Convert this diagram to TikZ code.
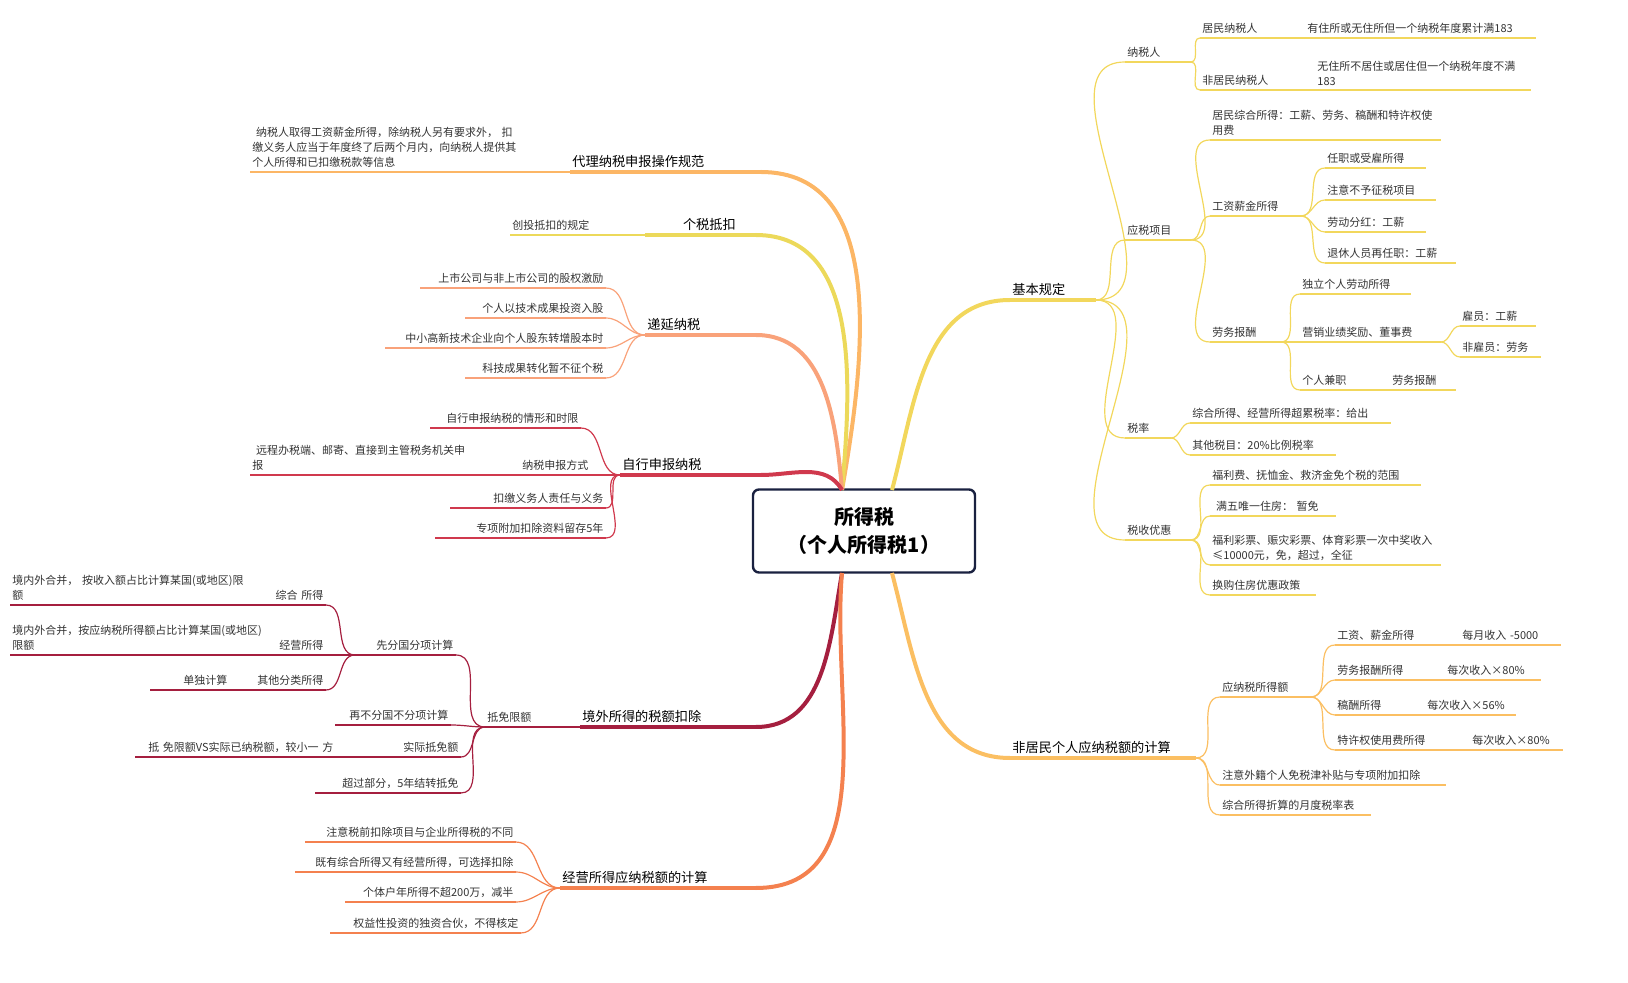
\documentclass[tikz,border=0pt]{standalone}
\usepackage{fontspec}
\setmainfont{Noto Sans CJK SC}
\XeTeXlinebreaklocale "zh"
\XeTeXlinebreakskip=0pt
\usetikzlibrary{positioning}
\definecolor{navy}{HTML}{1A2140}
\definecolor{cjbgd}{HTML}{F2D75C}
\definecolor{cfjm}{HTML}{FBBF62}
\definecolor{cdl}{HTML}{FCB665}
\definecolor{cgs}{HTML}{ECD95A}
\definecolor{cdy}{HTML}{F9A27A}
\definecolor{czx}{HTML}{D0394D}
\definecolor{cjw}{HTML}{A51F3F}
\definecolor{cjy}{HTML}{F4814F}
\definecolor{txt}{HTML}{333333}
\tikzset{
  leaf/.style={anchor=south west,inner xsep=1pt,inner ysep=2pt,
    font=\fontsize{5.5}{7.6}\selectfont,text=txt},
  big/.style={leaf,font=\fontsize{6.6}{9}\selectfont,text=black},
  sub/.style={line width=0.6pt},
  main/.style={line width=2pt},
  rc/.style={out=0,in=180},
  lc/.style={out=180,in=0}
}
% leaf with underline: [align]{name}{x1}{x2}{y}{colour}{text}
\newcommand\leaf[7][left]{%
  \pgfmathsetlengthmacro\lw{(#4-#3)*0.5pt-2pt}%
  \node[leaf,text width=\lw,align=#1] (#2) at (#3,#5) {#7};
  \draw[sub,#6] (#2.south west) -- (#2.south east);}
\newcommand\branch[7][left]{%
  \pgfmathsetlengthmacro\lw{(#4-#3)*0.5pt-2pt}%
  \node[big,text width=\lw,align=#1] (#2) at (#3,#5) {#7};
  \draw[main,#6] (#2.south west) -- (#2.south east);}
\begin{document}
\begin{tikzpicture}[x=0.5pt,y=-0.5pt]
\useasboundingbox (0,0) rectangle (1628,983);
\node[draw=navy,line width=1.2pt,rounded corners=3pt,fill=white,
  minimum width=111pt,minimum height=41.5pt,align=center,
  font=\fontsize{10}{14}\selectfont\bfseries] (root) at (864,531)
  {所得税\\（个人所得税1）};
\coordinate (rtop) at (892,490);
\coordinate (rbot) at (892,573);
\coordinate (ltop) at (842,490);
\coordinate (lbot) at (842,573);

% right: 基本规定
\branch{jbgd}{1010}{1095}{300}{cjbgd}{基本规定}
\draw[main,cjbgd] (rtop) to[out=75,in=180] (jbgd.south west);
\leaf{nsr}{1125}{1190}{62}{cjbgd}{纳税人}
\leaf{jmnsr}{1200}{1300}{38}{cjbgd}{居民纳税人}
\leaf{jmnote}{1305}{1535}{38}{cjbgd}{有住所或无住所但一个纳税年度累计满183}
\leaf{fjmnsr}{1200}{1300}{90}{cjbgd}{非居民纳税人}
\leaf{fjmnote}{1315}{1530}{90}{cjbgd}{无住所不居住或居住但一个纳税年度不满183}
\leaf{ysxm}{1125}{1190}{240}{cjbgd}{应税项目}
\leaf{jmzh}{1210}{1440}{140}{cjbgd}{居民综合所得：工薪、劳务、稿酬和特许权使用费}
\leaf{gzxj}{1210}{1300}{216}{cjbgd}{工资薪金所得}
\leaf{rz}{1325}{1425}{168}{cjbgd}{任职或受雇所得}
\leaf{zy}{1325}{1435}{200}{cjbgd}{注意不予征税项目}
\leaf{ldfh}{1325}{1425}{232}{cjbgd}{劳动分红：工薪}
\leaf{txry}{1325}{1455}{263}{cjbgd}{退休人员再任职：工薪}
\leaf{lwbc}{1210}{1280}{342}{cjbgd}{劳务报酬}
\leaf{dlgr}{1300}{1410}{294}{cjbgd}{独立个人劳动所得}
\leaf{yxjl}{1300}{1440}{342}{cjbgd}{营销业绩奖励、董事费}
\leaf{gy}{1460}{1535}{326}{cjbgd}{雇员：工薪}
\leaf{fgy}{1460}{1540}{357}{cjbgd}{非雇员：劳务}
\leaf{grjz}{1300}{1370}{390}{cjbgd}{个人兼职}
\leaf{grjzlw}{1390}{1455}{390}{cjbgd}{劳务报酬}
\leaf{sl}{1125}{1170}{438}{cjbgd}{税率}
\leaf{sl1}{1190}{1390}{423}{cjbgd}{综合所得、经营所得超累税率：给出}
\leaf{sl2}{1190}{1335}{455}{cjbgd}{其他税目：20\%比例税率}
\leaf{ssyh}{1125}{1190}{540}{cjbgd}{税收优惠}
\leaf{yh1}{1210}{1420}{485}{cjbgd}{福利费、抚恤金、救济金免个税的范围}
\leaf{yh2}{1210}{1335}{516}{cjbgd}{\ 满五唯一住房： 暂免}
\leaf{yh3}{1210}{1440}{565}{cjbgd}{福利彩票、赈灾彩票、体育彩票一次中奖收入≤10000元，免，超过，全征}
\leaf{yh4}{1210}{1315}{595}{cjbgd}{换购住房优惠政策}
\foreach \c in {nsr,ysxm,sl,ssyh}
  \draw[sub,cjbgd] (jbgd.south east) to[rc] (\c.south west);
\foreach \c in {jmnsr,fjmnsr} \draw[sub,cjbgd] (nsr.south east) to[rc] (\c.south west);
\draw[sub,cjbgd] (jmnsr.south east) -- (jmnote.south west);
\draw[sub,cjbgd] (fjmnsr.south east) -- (fjmnote.south west);
\foreach \c in {jmzh,gzxj,lwbc} \draw[sub,cjbgd] (ysxm.south east) to[rc] (\c.south west);
\foreach \c in {rz,zy,ldfh,txry} \draw[sub,cjbgd] (gzxj.south east) to[rc] (\c.south west);
\foreach \c in {dlgr,yxjl,grjz} \draw[sub,cjbgd] (lwbc.south east) to[rc] (\c.south west);
\foreach \c in {gy,fgy} \draw[sub,cjbgd] (yxjl.south east) to[rc] (\c.south west);
\draw[sub,cjbgd] (grjz.south east) -- (grjzlw.south west);
\foreach \c in {sl1,sl2} \draw[sub,cjbgd] (sl.south east) to[rc] (\c.south west);
\foreach \c in {yh1,yh2,yh3,yh4} \draw[sub,cjbgd] (ssyh.south east) to[rc] (\c.south west);

% right: 非居民
\branch{fjm}{1010}{1195}{758}{cfjm}{非居民个人应纳税额的计算}
\draw[main,cfjm] (rbot) to[out=-75,in=180] (fjm.south west);
\leaf{ynsd}{1220}{1310}{697}{cfjm}{应纳税所得额}
\leaf{gz}{1335}{1440}{645}{cfjm}{工资、薪金所得}
\leaf{gzv}{1460}{1560}{645}{cfjm}{每月收入 -5000}
\leaf{lw}{1335}{1425}{680}{cfjm}{劳务报酬所得}
\leaf{lwv}{1445}{1540}{680}{cfjm}{每次收入×80\%}
\leaf{gc}{1335}{1400}{715}{cfjm}{稿酬所得}
\leaf{gcv}{1425}{1515}{715}{cfjm}{每次收入×56\%}
\leaf{tx}{1335}{1445}{750}{cfjm}{特许权使用费所得}
\leaf{txv}{1470}{1562}{750}{cfjm}{每次收入×80\%}
\leaf{fjm2}{1220}{1445}{785}{cfjm}{注意外籍个人免税津补贴与专项附加扣除}
\leaf{fjm3}{1220}{1370}{815}{cfjm}{综合所得折算的月度税率表}
\foreach \c in {ynsd,fjm2,fjm3} \draw[sub,cfjm] (fjm.south east) to[rc] (\c.south west);
\foreach \c in {gz,lw,gc,tx} \draw[sub,cfjm] (ynsd.south east) to[rc] (\c.south west);
\foreach \a/\b in {gz/gzv,lw/lwv,gc/gcv,tx/txv} \draw[sub,cfjm] (\a.south east) -- (\b.south west);

% left: 代理 / 个税抵扣 / 递延
\branch{dl}{570}{760}{172}{cdl}{代理纳税申报操作规范}
\draw[main,cdl] (ltop) to[out=80,in=0] (dl.south east);
\leaf{dlnote}{250}{520}{172}{cdl}{\ 纳税人取得工资薪金所得，除纳税人另有要求外， 扣缴义务人应当于年度终了后两个月内，向纳税人提供其个人所得和已扣缴税款等信息}
\draw[sub,cdl] (dl.south west) -- (dlnote.south east);
\branch[right]{gsdk}{645}{755}{235}{cgs}{个税抵扣\ \ \ \ \ }
\draw[main,cgs] (ltop) to[out=85,in=0] (gsdk.south east);
\leaf{ctdk}{510}{600}{235}{cgs}{创投抵扣的规定}
\draw[sub,cgs] (gsdk.south west) -- (ctdk.south east);
\branch{dynsh}{645}{755}{335}{cdy}{递延纳税}
\draw[main,cdy] (ltop) to[out=95,in=0] (dynsh.south east);
\leaf[right]{dy1}{420}{605}{288}{cdy}{上市公司与非上市公司的股权激励}
\leaf[right]{dy2}{465}{605}{318}{cdy}{个人以技术成果投资入股}
\leaf[right]{dy3}{385}{605}{348}{cdy}{中小高新技术企业向个人股东转增股本时}
\leaf[right]{dy4}{465}{605}{378}{cdy}{科技成果转化暂不征个税}
\foreach \c in {dy1,dy2,dy3,dy4} \draw[sub,cdy] (dynsh.south west) to[lc] (\c.south east);

% left: 自行申报
\branch{zxsb}{620}{760}{475}{czx}{自行申报纳税}
\draw[main,czx] (ltop) to[out=120,in=0] (zxsb.south east);
\leaf[right]{zx1}{430}{580}{428}{czx}{自行申报纳税的情形和时限}
\leaf[right]{sbfs}{495}{590}{475}{czx}{纳税申报方式}
\leaf{sbfsnote}{250}{470}{475}{czx}{\ 远程办税端、邮寄、直接到主管税务机关申报}
\leaf[right]{zx3}{450}{605}{508}{czx}{扣缴义务人责任与义务}
\leaf[right]{zx4}{435}{605}{538}{czx}{专项附加扣除资料留存5年}
\foreach \c in {zx1,sbfs,zx3,zx4} \draw[sub,czx] (zxsb.south west) to[lc] (\c.south east);
\draw[sub,czx] (sbfs.south west) -- (sbfsnote.south east);

% left: 境外所得
\branch{jw}{580}{755}{727}{cjw}{境外所得的税额扣除}
\draw[main,cjw] (lbot) to[out=-100,in=0] (jw.south east);
\leaf{dmxe}{485}{545}{727}{cjw}{抵免限额}
\draw[sub,cjw] (jw.south west) -- (dmxe.south east);
\leaf[right]{xfg}{355}{455}{655}{cjw}{先分国分项计算}
\leaf[right]{zhsd}{260}{325}{605}{cjw}{综合 所得}
\leaf{zhnote}{10}{255}{605}{cjw}{境内外合并， 按收入额占比计算某国(或地区)限额}
\leaf[right]{jysd}{265}{325}{655}{cjw}{经营所得}
\leaf{jynote}{10}{265}{655}{cjw}{境内外合并，按应纳税所得额占比计算某国(或地区)限额}
\leaf[right]{qtfl}{240}{325}{690}{cjw}{其他分类所得}
\leaf[right]{ddjs}{150}{240}{690}{cjw}{单独计算\ \ \ \ }
\leaf[right]{bfg}{335}{450}{725}{cjw}{再不分国不分项计算}
\leaf[right]{sjdm}{370}{460}{757}{cjw}{实际抵免额}
\leaf[right]{sjnote}{135}{335}{757}{cjw}{抵 免限额VS实际已纳税额，较小一 方}
\leaf[right]{cgbf}{315}{460}{793}{cjw}{超过部分，5年结转抵免}
\foreach \c in {xfg,bfg,sjdm,cgbf} \draw[sub,cjw] (dmxe.south west) to[lc] (\c.south east);
\foreach \c in {zhsd,jysd,qtfl} \draw[sub,cjw] (xfg.south west) to[lc] (\c.south east);
\foreach \a/\b in {zhsd/zhnote,jysd/jynote,qtfl/ddjs,sjdm/sjnote} \draw[sub,cjw] (\a.south west) -- (\b.south east);

% left: 经营所得
\branch{jy}{560}{755}{888}{cjy}{经营所得应纳税额的计算}
\draw[main,cjy] (lbot) to[out=-95,in=0] (jy.south east);
\leaf[right]{jy1}{305}{515}{842}{cjy}{注意税前扣除项目与企业所得税的不同}
\leaf[right]{jy2}{295}{515}{872}{cjy}{既有综合所得又有经营所得，可选择扣除}
\leaf[right]{jy3}{345}{515}{902}{cjy}{个体户年所得不超200万，减半}
\leaf[right]{jy4}{330}{520}{933}{cjy}{权益性投资的独资合伙，不得核定}
\foreach \c in {jy1,jy2,jy3,jy4} \draw[sub,cjy] (jy.south west) to[lc] (\c.south east);
\end{tikzpicture}
\end{document}
